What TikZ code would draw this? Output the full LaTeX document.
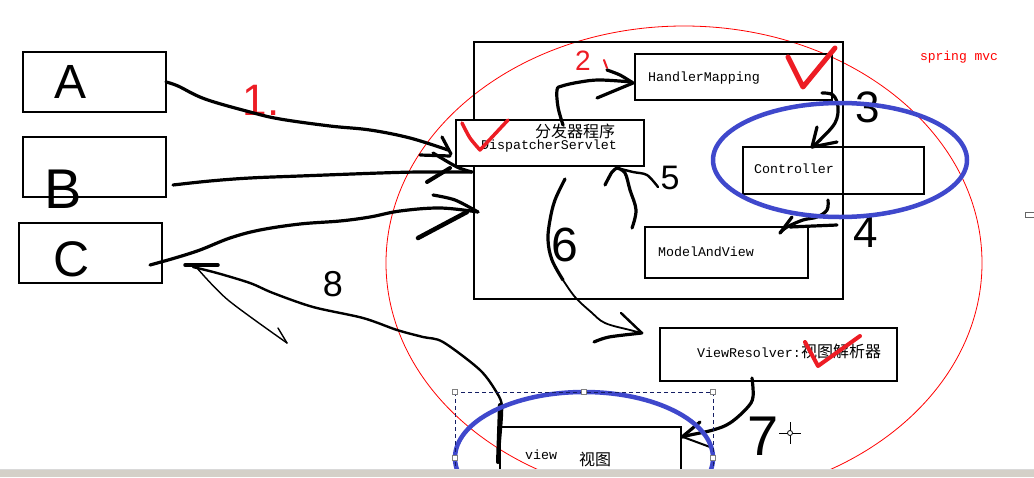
\documentclass[tikz,border=0pt]{standalone}
\usepackage{fontspec}
\newfontfamily\mono{Liberation Mono}
\newfontfamily\cjk{Noto Sans CJK SC}
\newfontfamily\hand{Liberation Sans}
\definecolor{pred}{RGB}{237,28,36}
\definecolor{pblue}{RGB}{63,72,204}
\definecolor{navy}{RGB}{20,30,100}
\definecolor{barcol}{RGB}{212,208,200}
\newcommand{\mtxt}{\mono\fontsize{13.33}{16}\selectfont}
\newcommand{\ctxt}{\cjk\fontsize{16}{18}\selectfont}
\tikzset{
  box/.style={draw, line width=1.2pt, inner sep=0pt, outer sep=0pt},
  hand/.style={line width=3.2pt, line cap=round, line join=round},
  thinhand/.style={line width=1.4pt, line cap=round, line join=round},
  chk/.style={draw=pred, line width=4pt, line cap=round, line join=round},
  lbl/.style={inner sep=0pt, font=\mtxt},
  num/.style={inner sep=0pt},
  handle/.style={draw=gray, fill=white, line width=0.6pt, minimum size=5pt, inner sep=0pt},
}
\begin{document}
\begin{tikzpicture}[x=1pt,y=-1pt]
\useasboundingbox (0,0) rectangle (1034,477);
\fill[white] (0,0) rectangle (1034,477);

\begin{scope}
\clip (0,0) rectangle (1034,469);
% big red ellipse
\draw[red, line width=0.8pt] (684,263) ellipse [x radius=298pt, y radius=237pt];

% boxes
\node[box, minimum width=143pt, minimum height=60pt] (A) at (94.5,82) {};
\node[box, minimum width=143pt, minimum height=60pt] (B) at (94.5,167) {};
\node[box, minimum width=143pt, minimum height=60pt] (C) at (90.5,253) {};
\node[box, minimum width=369pt, minimum height=257pt] (big) at (658.5,170.5) {};
\node[box, fill=white, minimum width=188pt, minimum height=46pt] (disp) at (550,143) {};
\node[box, minimum width=197pt, minimum height=46pt] (hm) at (733.5,77) {};
\node[box, minimum width=181pt, minimum height=47pt] (ctrl) at (833.5,170.5) {};
\node[box, minimum width=163pt, minimum height=51pt] (mav) at (726.5,252.5) {};
\node[box, minimum width=237pt, minimum height=53pt] (vr) at (778.5,354.5) {};
\node[box, minimum width=181pt, minimum height=63pt] (view) at (590.5,458.5) {};

% texts
\node[lbl] (hmt) at (704,78) {HandlerMapping};
\node[inner sep=0pt, font=\ctxt] (dispcn) at (575,131) {分发器程序};
\node[lbl] (dispt) at (549,146) {DispatcherServlet};
\node[lbl] (ctrlt) at (794,169) {Controller};
\node[lbl] (mavt) at (706,252) {ModelAndView};
\node[lbl] (vrt) at (789,351) {ViewResolver:{\ctxt 视图解析器}};
\node[lbl] (viewt) at (541,455) {view};
\node[inner sep=0pt, font=\ctxt] (viewcn) at (595,459) {视图};
\node[lbl, text=red, font=\mono\fontsize{13}{15}\selectfont] (spring) at (959,57) {spring mvc};

% handwritten letters / numbers
\node[num, font=\hand\fontsize{48}{48}\selectfont] (la) at (71,82) {A};
\node[num, font=\hand\fontsize{56}{56}\selectfont] (lb) at (63,189) {B};
\node[num, font=\hand\fontsize{50}{50}\selectfont] (lc) at (72,259) {C};
\node[num, text=pred, font=\hand\fontsize{44}{44}\selectfont] (l1) at (261,100) {1.};
\node[num, text=pred, font=\hand\fontsize{28}{28}\selectfont] (l2) at (583,61) {2};
\node[num, font=\hand\fontsize{44}{44}\selectfont] (l3) at (868,107) {3};
\node[num, font=\hand\fontsize{44}{44}\selectfont] (l4) at (866,232) {4};
\node[num, font=\hand\fontsize{34}{34}\selectfont] (l5) at (670,178) {5};
\node[num, font=\hand\fontsize{48}{48}\selectfont] (l6) at (565,245) {6};
\node[num, font=\hand\fontsize{56}{56}\selectfont] (l7) at (763,436) {7};
\node[num, font=\hand\fontsize{36}{36}\selectfont] (l8) at (333,284) {8};
\draw[pred, line width=2pt, line cap=round] (604,60) -- (607,68);

% arrow 1 (A -> dispatcher)
\draw[hand] plot[smooth, tension=0.6] coordinates {(A.east) (178,86) (205,99) (250,112) (280,119) (330,126) (370,130) (410,138) (448,150)};
\draw[hand] (442,137) -- (451,154);
\draw[hand] (420,155) -- (450,156);
% arrow from B
\draw[hand] plot[smooth, tension=0.6] coordinates {(173,185) (210,181) (250,178) (300,176) (380,173) (420,172) (472,172)};
\draw[hand] plot[smooth] coordinates {(433,153) (457,167) (472,172)};
\draw[hand, line width=4pt] (427,182) -- (450,168);
% arrow from C
\draw[hand] plot[smooth, tension=0.6] coordinates {(150,265) (175,258) (200,250) (230,238) (260,230) (300,224) (340,221) (370,217) (400,211) (440,208) (478,212)};
\draw[hand] plot[smooth] coordinates {(433,195) (455,200) (478,212)};
\draw[hand, line width=4.5pt] (418,238) -- (467,212);
% arrow 8 (view -> C)
\draw[hand, line width=2.4pt] plot[smooth, tension=0.5] coordinates {(498,462) (500,440) (502,407) (497,393) (480,370) (443,342) (423,337) (397,330) (363,318) (313,307) (273,293) (250,283) (217,273) (193,267)};
\draw[hand, line width=4pt] (500,405) -- (498,462);
\draw[hand, line width=3.5pt] (185,265) -- (218,265);
\draw[thinhand] plot[smooth] coordinates {(197,268) (228,300) (287,343)};
\draw[thinhand] (278,328) -- (287,343);
% arrow 2 (dispatcher -> HandlerMapping)
\draw[hand] plot[smooth, tension=0.6] coordinates {(563,125) (558,107) (557,90) (562,86) (580,82) (600,80) (632,82)};
\draw[hand] plot[smooth] coordinates {(607,70) (620,75) (633,83)};
\draw[hand] (597,98) -- (633,83);
% arrow 3 (HandlerMapping -> Controller)
\draw[hand] plot[smooth, tension=0.6] coordinates {(822,93) (833,95) (838,107) (835,123) (820,140) (812,147)};
\draw[hand] (817,127) -- (812,147);
\draw[hand] (837,142) -- (812,147);
% arrow 4 (Controller -> ModelAndView)
\draw[hand] plot[smooth, tension=0.6] coordinates {(828,200) (827,210) (817,217) (803,220) (787,227) (780,233)};
\draw[hand] (792,217) -- (780,233);
\draw[hand] (837,225) -- (790,227);
% arrow 5 (ModelAndView -> dispatcher)
\draw[hand] plot[smooth, tension=0.6] coordinates {(632,228) (636,210) (630,190) (625,173) (617,168)};
\draw[hand] plot[smooth] coordinates {(617,168) (612,172) (605,185)};
\draw[hand, line width=2.4pt] plot[smooth] coordinates {(617,168) (633,172) (647,175) (658,187)};
% arrow 6 (dispatcher -> ViewResolver)
\draw[hand] plot[smooth, tension=0.6] coordinates {(565,179) (555,200) (550,220) (548,240) (552,260) (563,280)};
\draw[hand, line width=1.8pt] plot[smooth, tension=0.6] coordinates {(563,280) (575,297) (591,312) (605,323) (630,330) (642,333)};
\draw[hand, line width=2.4pt] (621,313) -- (642,333);
\draw[hand] plot[smooth] coordinates {(594,342) (609,337) (642,333)};
% arrow 7 (ViewResolver -> view)
\draw[hand] plot[smooth, tension=0.6] coordinates {(752,378) (753,397) (747,408) (730,423) (713,430) (690,435) (682,437)};
\draw[hand] (700,422) -- (682,437);
\draw[hand, line width=2pt] (683,437) -- (710,447);

% blue ellipses
\draw[pblue, line width=4.5pt] (840,160) ellipse [x radius=127pt, y radius=57pt];
\draw[pblue, line width=4.5pt] (584,458) ellipse [x radius=129pt, y radius=66pt];

% selection box with handles
\draw[navy, dashed, line width=0.8pt, dash pattern=on 4pt off 3pt] (455,392) rectangle (713,524);
\foreach \p in {(455,392),(584,392),(713,392),(455,458),(713,458)}
  \node[handle] at \p {};

% red check marks
\draw[chk, line width=3.5pt] plot[smooth, tension=0.5] coordinates {(462,123) (470,138) (480,150)} -- (508,120);
\draw[chk, line width=5pt] (788,57) -- (803,87) -- (835,48);
\draw[chk] (805,342) -- (818,366) -- (860,336);

% cursor crosshair
\draw[line width=1pt] (779,433) -- (801,433) (790,422) -- (790,444);
\draw[line width=0.8pt, fill=white] (790,433) circle (2.5pt);

% tiny mark at the right edge
\draw[gray!80!black, line width=0.8pt] (1025,212) rectangle (1036,217);
\end{scope}

% bottom bar
\fill[barcol] (0,469) rectangle (1034,477);
\draw[white!85!black, line width=1pt] (0,469.5) -- (1034,469.5);
\end{tikzpicture}
\end{document}
